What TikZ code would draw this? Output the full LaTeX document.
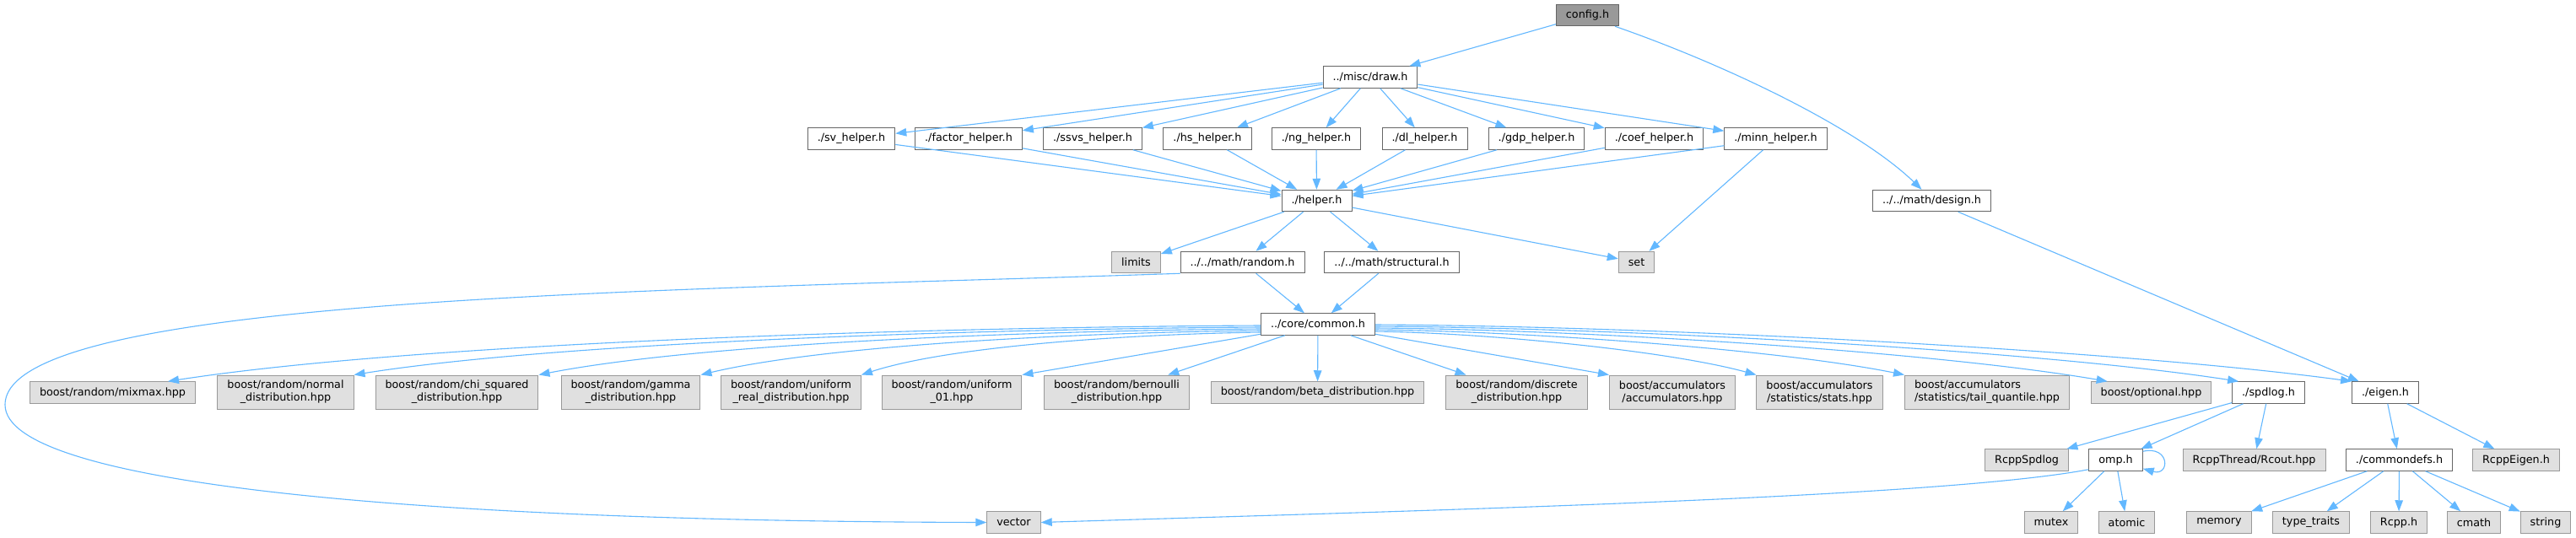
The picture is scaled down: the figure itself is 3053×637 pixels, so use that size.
\documentclass[tikz,border=0pt]{standalone}
\usepackage{fontspec}
\setmainfont{DejaVu Sans}
\usetikzlibrary{arrows.meta,calc}
\definecolor{edgeblue}{HTML}{63B8FF}
\definecolor{greyfill}{HTML}{E0E0E0}
\definecolor{greyline}{HTML}{999999}
\definecolor{darkline}{HTML}{666666}
\definecolor{rootfill}{HTML}{999999}
\begin{document}
\begin{tikzpicture}[x=1pt,y=-1pt,
  filebox/.style={rectangle, line width=1pt, minimum height=25.5pt, inner xsep=11.5pt, inner ysep=0pt, font=\fontsize{12.75}{15}\selectfont, text=black},
  wbox/.style={filebox, draw=darkline, fill=white},
  gbox/.style={filebox, draw=greyline, fill=greyfill},
  rootbox/.style={filebox, draw=darkline, fill=rootfill},
  twoline/.style={minimum height=40pt, align=center},
  dep/.style={draw=edgeblue, line width=1.1pt, -{Triangle[length=13pt,width=9.5pt]}},
]
\fill[white] (0,0) rectangle (3053,637);
\useasboundingbox (0,0) rectangle (3053,637);

% row 0
\node[rootbox] (nconfig) at (1881.5,18) {config.h};
% row 1
\node[wbox] (ndraw) at (1624,91.5) {../misc/draw.h};
% row 2
\node[wbox] (nsv) at (1009,164.5) {./sv\_helper.h};
\node[wbox] (nfactor) at (1148,164.5) {./factor\_helper.h};
\node[wbox] (nssvs) at (1295,164.5) {./ssvs\_helper.h};
\node[wbox] (nhs) at (1431,164.5) {./hs\_helper.h};
\node[wbox] (nng) at (1560,164.5) {./ng\_helper.h};
\node[wbox] (ndl) at (1688.5,164.5) {./dl\_helper.h};
\node[wbox] (ngdp) at (1821,164.5) {./gdp\_helper.h};
\node[wbox] (ncoef) at (1960.5,164.5) {./coef\_helper.h};
\node[wbox] (nminn) at (2104.5,164.5) {./minn\_helper.h};
% row 3
\node[wbox] (nhelper) at (1560.5,238) {./helper.h};
\node[wbox] (ndesign) at (2289.5,238) {../../math/design.h};
% row 4
\node[gbox] (nlimits) at (1346.5,311) {limits};
\node[wbox] (nrandom) at (1472.5,311) {../../math/random.h};
\node[wbox] (nstruct) at (1649.5,311) {../../math/structural.h};
\node[gbox] (nset) at (1939.5,311) {set};
% row 5
\node[wbox] (ncommon) at (1562,384.5) {../core/common.h};
% row 6
\node[gbox] (nmixmax) at (133.5,465.5) {boost/random/mixmax.hpp};
\node[gbox,twoline] (nnormal) at (338.5,465) {boost/random/normal\\\_distribution.hpp};
\node[gbox,twoline] (nchi) at (541.5,465) {boost/random/chi\_squared\\\_distribution.hpp};
\node[gbox,twoline] (ngamma) at (747.5,465) {boost/random/gamma\\\_distribution.hpp};
\node[gbox,twoline] (nureal) at (937.5,465) {boost/random/uniform\\\_real\_distribution.hpp};
\node[gbox,twoline] (nuone) at (1128,465) {boost/random/uniform\\\_01.hpp};
\node[gbox,twoline] (nbern) at (1323.5,465) {boost/random/bernoulli\\\_distribution.hpp};
\node[gbox] (nbeta) at (1561.5,465.5) {boost/random/beta\_distribution.hpp};
\node[gbox,twoline] (ndisc) at (1797.5,465) {boost/random/discrete\\\_distribution.hpp};
\node[gbox,twoline] (nacc) at (1982,465) {boost/accumulators\\/accumulators.hpp};
\node[gbox,twoline] (nstats) at (2156.5,465) {boost/accumulators\\/statistics/stats.hpp};
\node[gbox,twoline,align=left] (ntail) at (2355,465) {boost/accumulators\\/statistics/tail\_quantile.hpp};
\node[gbox] (nopt) at (2549.5,465.5) {boost/optional.hpp};
\node[wbox] (nspd) at (2688.5,465.5) {./spdlog.h};
\node[wbox] (neigen) at (2827,465.5) {./eigen.h};
% row 7
\node[gbox] (nrspd) at (2402,545.5) {RcppSpdlog};
\node[wbox] (nomp) at (2507.5,545.5) {omp.h};
\node[gbox] (nrcout) at (2671.5,545.5) {RcppThread/Rcout.hpp};
\node[wbox] (ncdefs) at (2843.5,545.5) {./commondefs.h};
\node[gbox] (nreigen) at (2982,545.5) {RcppEigen.h};
% row 8
\node[gbox] (nvector) at (1201.5,619.5) {vector};
\node[gbox] (nmutex) at (2431,619.5) {mutex};
\node[gbox] (natomic) at (2520.5,619.5) {atomic};
\node[gbox] (nmemory) at (2630,619.5) {memory};
\node[gbox] (ntraits) at (2739,619.5) {type\_traits};
\node[gbox] (nrcpp) at (2843,619.5) {Rcpp.h};
\node[gbox] (ncmath) at (2932,619.5) {cmath};
\node[gbox] (nstring) at (3017,619.5) {string};

% edges
\draw[dep] (nconfig) -- (ndraw);
\draw[dep] ($(nconfig.south east)+(-5,0)$) .. controls (2040,75) and (2200,150) .. ($(ndesign.north)+(-12,0)$);
\foreach \h in {nsv,nfactor,nssvs,nhs,nng,ndl,ngdp,ncoef,nminn}{
  \draw[dep] (ndraw) -- (\h);
  \draw[dep] (\h) -- (nhelper);
}
\draw[dep] (nminn) -- (nset);
\draw[dep] (nhelper) -- (nlimits);
\draw[dep] (nhelper) -- (nrandom);
\draw[dep] (nhelper) -- (nstruct);
\draw[dep] (nhelper) -- (nset);
\draw[dep] (nrandom) -- (ncommon);
\draw[dep] (nstruct) -- (ncommon);
\draw[dep] (nrandom.south west) .. controls (800,345) and (6,350) .. (6,480)
           .. controls (6,575) and (500,618) .. (nvector.west);
\draw[dep] (ndesign) -- (neigen);

% common.h fan, left
\draw[dep] ($(ncommon.west)+(0,1.5)$) .. controls (1100,388) and (498,406) .. ($(nmixmax.north east)+(-33,0)$);
\draw[dep] ($(ncommon.west)+(0,3.5)$) .. controls (1172,390) and (667,405) .. (nnormal.north east);
\draw[dep] ($(ncommon.west)+(0,5.5)$) .. controls (1237,392) and (836,406) .. (nchi.north east);
\draw[dep] ($(ncommon.west)+(0,7.5)$) .. controls (1295,394) and (984,408) .. (ngamma.north east);
\draw[dep] ($(ncommon.west)+(0,9.5)$) .. controls (1352,396) and (1130,409) .. (nureal.north east);
\draw[dep] ($(ncommon.south west)+(0,-1.5)$) -- (nuone.north east);
\draw[dep] (ncommon) -- (nbern);
\draw[dep] (ncommon) -- (nbeta);
\draw[dep] (ncommon) -- (ndisc);
% common.h fan, right
\draw[dep] ($(ncommon.south east)+(0,-1.5)$) -- (nacc.north west);
\draw[dep] ($(ncommon.east)+(0,8.5)$) .. controls (1765,395) and (1977,416) .. (nstats.north west);
\draw[dep] ($(ncommon.east)+(0,6.5)$) .. controls (1817,393) and (2111,415) .. (ntail.north west);
\draw[dep] ($(ncommon.east)+(0,4.5)$) .. controls (1890,391) and (2298,418) .. ($(nopt.north west)+(20,0)$);
\draw[dep] ($(ncommon.east)+(0,2.5)$) .. controls (1937,389) and (2418,416) .. ($(nspd.north west)+(8,0)$);
\draw[dep] ($(ncommon.east)+(0,0.5)$) .. controls (1977,387) and (2521,416) .. (neigen.north west);

% spdlog / omp
\draw[dep] (nspd) -- (nrspd);
\draw[dep] (nspd) -- (nomp);
\draw[dep] (nspd) -- (nrcout);
\draw[dep] ($(nomp.north east)+(0,3)$) .. controls (2572,528) and (2572,565) .. ($(nomp.south east)+(0,-3)$);
\draw[dep] ($(nomp.south west)+(0,-2)$) .. controls (2300,590) and (1700,605) .. (nvector.east);
\draw[dep] (nomp) -- (nmutex);
\draw[dep] (nomp) -- (natomic);
% eigen
\draw[dep] (neigen) -- (ncdefs);
\draw[dep] (neigen) -- (nreigen);
\foreach \t in {nmemory,ntraits,nrcpp,ncmath,nstring}{
  \draw[dep] (ncdefs) -- (\t);
}
\end{tikzpicture}
\end{document}
